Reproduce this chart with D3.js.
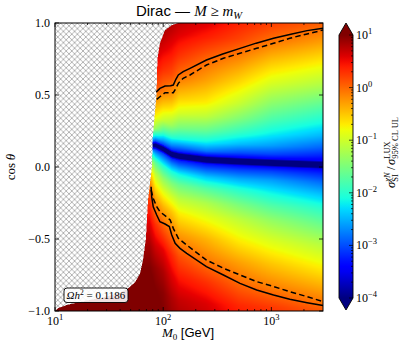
<!DOCTYPE html>
<html>
<head>
<meta charset="utf-8">
<script src="https://cdn.jsdelivr.net/npm/d3@7"></script>
<style>
  body { margin: 0; background: #fff; }
  svg { display: block; }
</style>
</head>
<body>
<svg id="chart" width="407" height="352"></svg>
<script>
// ratio sigma_SI / sigma_LUX, stored as log10 on a grid:
// columns in M0 (GeV), rows as offsets in cos(theta) from the dark "blind spot" line
var massCols = [10, 75, 85, 100, 120, 140, 250, 500, 1000, 3000];
var lineCos  = [0.15, 0.15, 0.15, 0.125, 0.088, 0.075, 0.05, 0.038, 0.028, 0.014];
var offsets  = [-1.16, -1.0, -0.85, -0.7, -0.55, -0.4, -0.3, -0.2, -0.12, -0.06, -0.03, 0,
                0.03, 0.06, 0.12, 0.2, 0.3, 0.4, 0.55, 0.7, 0.85, 1.0];
var logRatio = [
  [1.2, 1.1, 1.0, 0.85, 0.6, 0.3, 0.02, -0.4, -1.0, -1.8, -2.6, -4.0, -2.7, -2.1, -1.1, -0.5, 0.0, 0.35, 0.7, 0.95, 1.1, 1.2],
  [1.2, 1.1, 1.0, 0.85, 0.6, 0.3, 0.02, -0.4, -1.0, -1.8, -2.6, -4.0, -2.7, -2.1, -1.1, -0.5, 0.0, 0.35, 0.7, 0.95, 1.1, 1.2],
  [1.1, 1.0, 0.9, 0.65, 0.3, -0.2, -0.6, -1.1, -1.7, -2.5, -3.0, -4.4, -3.0, -2.3, -1.3, -0.75, -0.3, 0.12, 0.5, 0.75, 1.0, 1.1],
  [1.0, 0.95, 0.8, 0.55, 0.1, -0.4, -0.85, -1.4, -2.0, -2.7, -3.1, -4.6, -3.1, -2.6, -1.8, -1.05, -0.55, -0.1, 0.3, 0.6, 0.85, 1.0],
  [0.9, 0.8, 0.6, 0.35, -0.05, -0.5, -0.95, -1.5, -2.1, -2.8, -3.2, -4.7, -3.2, -2.75, -2.0, -1.3, -0.75, -0.3, 0.15, 0.45, 0.7, 0.9],
  [0.85, 0.7, 0.45, 0.15, -0.25, -0.7, -1.1, -1.6, -2.2, -2.9, -3.25, -4.7, -3.25, -2.85, -2.1, -1.5, -0.95, -0.55, -0.05, 0.3, 0.6, 0.8],
  [0.75, 0.6, 0.3, -0.08, -0.4, -0.85, -1.2, -1.75, -2.4, -3.0, -3.3, -4.8, -3.35, -2.8, -2.2, -1.65, -1.1, -0.7, -0.3, 0.02, 0.4, 0.7],
  [0.55, 0.35, 0.02, -0.3, -0.7, -1.1, -1.5, -2.0, -2.55, -3.05, -3.35, -4.8, -3.4, -3.0, -2.45, -1.95, -1.45, -1.05, -0.6, -0.2, 0.2, 0.45],
  [0.45, 0.25, -0.15, -0.5, -0.9, -1.35, -1.75, -2.2, -2.6, -3.05, -3.35, -4.8, -3.4, -3.05, -2.6, -2.2, -1.8, -1.45, -0.95, -0.5, -0.05, 0.3],
  [0.3, 0.05, -0.35, -0.75, -1.15, -1.65, -2.0, -2.45, -2.85, -3.2, -3.4, -4.8, -3.45, -3.25, -2.9, -2.5, -2.1, -1.75, -1.2, -0.75, -0.3, 0.1]
];

// left edge of the region with a valid relic density (hatched beyond)
var boundaryCos  = [-1.0, -0.98, -0.958, -0.935, -0.91, -0.88, -0.85, -0.8, -0.74, -0.65, -0.5, -0.23, 0.0, 0.2, 0.5, 0.75, 0.86, 0.95, 0.985, 1.0];
var boundaryMass = [10, 10.7, 12.9, 17.8, 26.1, 38.0, 46.2, 55.0, 61.1, 65.0, 69.2, 72.4, 78.7, 80.0, 86.7, 88.5, 93.3, 104, 120, 137];

// contours (solid: ratio = 1, dashed: second limit)
var upperSolidM   = [86.1, 93.3, 104, 117, 124, 131, 138, 153, 177, 251, 355, 513, 724, 1047, 1514, 2138, 3000];
var upperSolidCos = [0.52, 0.546, 0.562, 0.565, 0.569, 0.609, 0.639, 0.662, 0.685, 0.743, 0.785, 0.824, 0.86, 0.894, 0.922, 0.947, 0.964];
var upperDashM    = [87.1, 93.3, 104, 124, 131, 138, 153, 177, 251, 360, 513, 731, 1047, 1479, 2138, 3000];
var upperDashCos  = [0.47, 0.488, 0.516, 0.516, 0.546, 0.581, 0.616, 0.639, 0.708, 0.755, 0.79, 0.824, 0.859, 0.894, 0.924, 0.951];
var lowerSolidM   = [77.3, 78.3, 80.9, 87.1, 93.3, 104, 114, 120, 129, 143, 165, 251, 360, 513, 731, 1047, 1479, 2138, 3000];
var lowerSolidCos = [-0.137, -0.206, -0.276, -0.333, -0.38, -0.396, -0.414, -0.472, -0.53, -0.565, -0.6, -0.692, -0.75, -0.808, -0.854, -0.889, -0.919, -0.942, -0.962];
var lowerDashM    = [77.3, 80.9, 87.1, 93.3, 107, 116, 124, 138, 165, 251, 360, 513, 731, 1047, 1479, 2138, 3000];
var lowerDashCos  = [-0.16, -0.218, -0.276, -0.31, -0.345, -0.368, -0.426, -0.495, -0.542, -0.646, -0.703, -0.75, -0.796, -0.83, -0.866, -0.9, -0.935];

var xTicks = [10, 100, 1000];
var xMinor = [20, 30, 40, 50, 60, 70, 80, 90, 200, 300, 400, 500, 600, 700, 800, 900, 2000];
var yTicks = [-1.0, -0.5, 0.0, 0.5, 1.0];
var cbarExps = [-4, -3, -2, -1, 0, 1];
var relicLabel = "0.1186";

var X0 = 55, X1 = 323, Y0 = 23, Y1 = 311;
var serif = "'Liberation Serif', 'DejaVu Serif', serif";
var sans = "'Liberation Sans', Arial, sans-serif";

var svg = d3.select("#chart");

var x = d3.scaleLog().domain([10, 3000]).range([X0, X1]);
var y = d3.scaleLinear().domain([-1, 1]).range([Y1, Y0]);

// matplotlib "jet"
var jetR = d3.scaleLinear().domain([0, 0.35, 0.66, 0.89, 1]).range([0, 0, 1, 1, 0.5]).clamp(true);
var jetG = d3.scaleLinear().domain([0, 0.125, 0.375, 0.64, 0.91, 1]).range([0, 0, 1, 1, 0, 0]).clamp(true);
var jetB = d3.scaleLinear().domain([0, 0.11, 0.34, 0.65, 1]).range([0.5, 1, 1, 0, 0]).clamp(true);
var tOf = d3.scaleLinear().domain([-4, 1]).range([0, 1]).clamp(true);
function jet(t) {
  return [Math.round(255 * jetR(t)), Math.round(255 * jetG(t)), Math.round(255 * jetB(t))];
}

var logCols = massCols.map(Math.log10);
var colScales = logRatio.map(function(col) {
  return d3.scaleLinear().domain(offsets).range(col).clamp(true);
});
var c0Scale = d3.scaleLinear().domain(logCols).range(lineCos).clamp(true);
var bLog = d3.scaleLinear().domain(boundaryCos).range(boundaryMass.map(Math.log10)).clamp(true);

function field(lm, c) {
  var i = d3.bisectRight(logCols, lm) - 1;
  i = Math.max(0, Math.min(logCols.length - 2, i));
  var t = Math.max(0, Math.min(1, (lm - logCols[i]) / (logCols[i + 1] - logCols[i])));
  var dc = c - c0Scale(lm);
  return colScales[i](dc) * (1 - t) + colScales[i + 1](dc) * t;
}

// ---- hatch pattern for the excluded region
var defs = svg.append("defs");
var hs = 5.6;
var pat = defs.append("pattern").attr("id", "hatch")
  .attr("patternUnits", "userSpaceOnUse")
  .attr("x", X0).attr("y", Y0)
  .attr("width", hs).attr("height", hs);
pat.append("path")
  .attr("d", "M0,0L" + hs + "," + hs + "M" + hs + ",0L0," + hs)
  .attr("stroke", "#8c8c8c").attr("stroke-width", 0.65).attr("fill", "none");

svg.append("rect").attr("x", X0).attr("y", Y0)
  .attr("width", X1 - X0).attr("height", Y1 - Y0)
  .attr("fill", "#fff");
svg.append("rect").attr("x", X0).attr("y", Y0)
  .attr("width", X1 - X0).attr("height", Y1 - Y0)
  .attr("fill", "url(#hatch)");

// ---- heat map rendered to a canvas and placed in the svg
var W = X1 - X0, H = Y1 - Y0;
var canvas = document.createElement("canvas");
canvas.width = W; canvas.height = H;
var ctx = canvas.getContext("2d");
var img = ctx.createImageData(W, H);
var subs = [[0.25, 0.25], [0.75, 0.25], [0.25, 0.75], [0.75, 0.75]];
for (var j = 0; j < H; j++) {
  for (var i = 0; i < W; i++) {
    var cover = 0;
    subs.forEach(function(s) {
      var lms = Math.log10(x.invert(X0 + i + s[0]));
      var cs = y.invert(Y0 + j + s[1]);
      if (lms >= bLog(cs)) cover++;
    });
    var k = 4 * (j * W + i);
    if (cover === 0) { img.data[k + 3] = 0; continue; }
    var lm = Math.log10(x.invert(X0 + i + 0.5));
    var c = y.invert(Y0 + j + 0.5);
    var col = jet(tOf(field(lm, c)));
    img.data[k] = col[0]; img.data[k + 1] = col[1]; img.data[k + 2] = col[2];
    img.data[k + 3] = Math.round(255 * cover / 4);
  }
}
ctx.putImageData(img, 0, 0);
svg.append("image")
  .attr("x", X0).attr("y", Y0).attr("width", W).attr("height", H)
  .attr("preserveAspectRatio", "none")
  .attr("href", canvas.toDataURL());

// ---- contours
var line = d3.line().x(function(d) { return x(d[0]); }).y(function(d) { return y(d[1]); });
function contour(ms, cs, dashed) {
  svg.append("path")
    .attr("d", line(d3.zip(ms, cs)))
    .attr("fill", "none").attr("stroke", "#000").attr("stroke-width", 1.5)
    .attr("stroke-dasharray", dashed ? "5.5,3.2" : null);
}
contour(upperSolidM, upperSolidCos, false);
contour(upperDashM, upperDashCos, true);
contour(lowerSolidM, lowerSolidCos, false);
contour(lowerDashM, lowerDashCos, true);

// ---- frame and ticks (matplotlib classic: inward, all four sides)
var tk = svg.append("g").attr("stroke", "#000").attr("stroke-width", 0.8);
xTicks.forEach(function(v) {
  tk.append("line").attr("x1", x(v)).attr("x2", x(v)).attr("y1", Y1).attr("y2", Y1 - 4);
  tk.append("line").attr("x1", x(v)).attr("x2", x(v)).attr("y1", Y0).attr("y2", Y0 + 4);
});
xMinor.forEach(function(v) {
  tk.append("line").attr("x1", x(v)).attr("x2", x(v)).attr("y1", Y1).attr("y2", Y1 - 2);
  tk.append("line").attr("x1", x(v)).attr("x2", x(v)).attr("y1", Y0).attr("y2", Y0 + 2);
});
yTicks.forEach(function(v) {
  tk.append("line").attr("x1", X0).attr("x2", X0 + 4).attr("y1", y(v)).attr("y2", y(v));
  tk.append("line").attr("x1", X1).attr("x2", X1 - 4).attr("y1", y(v)).attr("y2", y(v));
});
svg.append("rect").attr("x", X0).attr("y", Y0)
  .attr("width", W).attr("height", H)
  .attr("fill", "none").attr("stroke", "#000").attr("stroke-width", 1);

function pow10(t, e) {
  t.append("tspan").text("10");
  t.append("tspan").attr("dy", -5).attr("font-size", 8.5).text(e < 0 ? "\u2212" + (-e) : e);
}

xTicks.forEach(function(v) {
  var t = svg.append("text").attr("x", x(v)).attr("y", 325)
    .attr("text-anchor", "middle").attr("font-family", serif).attr("font-size", 12);
  pow10(t, Math.round(Math.log10(v)));
});
yTicks.forEach(function(v) {
  svg.append("text").attr("x", 50).attr("y", y(v) + 4)
    .attr("text-anchor", "end").attr("font-family", serif).attr("font-size", 12)
    .text(d3.format(".1f")(v).replace("-", "\u2212"));
});

// ---- relic density label
svg.append("rect").attr("x", 64).attr("y", 288).attr("width", 64).attr("height", 14.5)
  .attr("rx", 3).attr("fill", "#fff").attr("fill-opacity", 0.88)
  .attr("stroke", "#000").attr("stroke-width", 0.9);
var rl = svg.append("text").attr("x", 96).attr("y", 299)
  .attr("text-anchor", "middle").attr("font-family", serif).attr("font-size", 11);
rl.append("tspan").attr("font-style", "italic").text("\u03A9h");
rl.append("tspan").attr("dy", -4).attr("font-size", 7.5).text("2");
rl.append("tspan").attr("dy", 4).text(" = " + relicLabel);

// ---- title and axis labels
var tt = svg.append("text").attr("x", 189).attr("y", 16)
  .attr("text-anchor", "middle").attr("font-size", 15);
tt.append("tspan").attr("font-family", sans).text("Dirac \u2014 ");
tt.append("tspan").attr("font-family", serif).attr("font-style", "italic").text("M");
tt.append("tspan").attr("font-family", serif).text(" \u2265 ");
tt.append("tspan").attr("font-family", serif).attr("font-style", "italic").text("m");
tt.append("tspan").attr("font-family", serif).attr("font-style", "italic")
  .attr("font-size", 10.5).attr("dy", 3).text("W");

var xl = svg.append("text").attr("x", 188).attr("y", 337)
  .attr("text-anchor", "middle").attr("font-size", 13);
xl.append("tspan").attr("font-family", serif).attr("font-style", "italic").text("M");
xl.append("tspan").attr("font-family", serif).attr("font-size", 9).attr("dy", 3).text("0");
xl.append("tspan").attr("font-family", sans).attr("dy", -3).text(" [GeV]");

var yl = svg.append("text").attr("transform", "translate(15,167) rotate(-90)")
  .attr("text-anchor", "middle").attr("font-family", serif).attr("font-size", 13);
yl.append("tspan").text("cos");
yl.append("tspan").attr("font-style", "italic").text("\u2009\u03B8");

// ---- colour bar
var CB0 = 339, CB1 = 353, CBT = 35, CBB = 298, tip = 12;
var cy = d3.scaleLog().domain([1e-4, 10]).range([CBB, CBT]);
var grad = defs.append("linearGradient").attr("id", "cbar")
  .attr("x1", 0).attr("x2", 0).attr("y1", 1).attr("y2", 0);
d3.range(0, 1.0001, 0.02).forEach(function(t) {
  var cc = jet(t);
  grad.append("stop").attr("offset", t).attr("stop-color", d3.rgb(cc[0], cc[1], cc[2]));
});
svg.append("rect").attr("x", CB0).attr("y", CBT).attr("width", CB1 - CB0).attr("height", CBB - CBT)
  .attr("fill", "url(#cbar)");
var topC = jet(1), botC = jet(0);
svg.append("path")
  .attr("d", "M" + CB0 + "," + CBT + "L" + (CB0 + CB1) / 2 + "," + (CBT - tip) + "L" + CB1 + "," + CBT + "Z")
  .attr("fill", d3.rgb(topC[0], topC[1], topC[2]));
svg.append("path")
  .attr("d", "M" + CB0 + "," + CBB + "L" + (CB0 + CB1) / 2 + "," + (CBB + tip) + "L" + CB1 + "," + CBB + "Z")
  .attr("fill", d3.rgb(botC[0], botC[1], botC[2]));
svg.append("path")
  .attr("d", "M" + CB0 + "," + CBT + "L" + (CB0 + CB1) / 2 + "," + (CBT - tip) + "L" + CB1 + "," + CBT +
             "L" + CB1 + "," + CBB + "L" + (CB0 + CB1) / 2 + "," + (CBB + tip) + "L" + CB0 + "," + CBB + "Z")
  .attr("fill", "none").attr("stroke", "#000").attr("stroke-width", 0.9);

var cbt = svg.append("g").attr("stroke", "#000").attr("stroke-width", 0.7);
cbarExps.forEach(function(e) {
  var v = Math.pow(10, e);
  cbt.append("line").attr("x1", CB1).attr("x2", CB1 - 4).attr("y1", cy(v)).attr("y2", cy(v));
  if (e < 1) {
    d3.range(2, 10).forEach(function(m) {
      cbt.append("line").attr("x1", CB1).attr("x2", CB1 - 2)
        .attr("y1", cy(m * v)).attr("y2", cy(m * v));
    });
  }
  var t = svg.append("text").attr("x", 356).attr("y", cy(v) + 4)
    .attr("font-family", serif).attr("font-size", 12);
  pow10(t, e);
});

// colour bar label, laid out piece by piece along the rotated baseline
var cl = svg.append("g").attr("transform", "translate(395,152) rotate(-90)");
var pos = 0;
function piece(txt, size, dy, italic) {
  var t = cl.append("text").attr("x", pos).attr("y", dy)
    .attr("font-family", serif).attr("font-size", size)
    .attr("font-style", italic ? "italic" : null).text(txt);
  return t.node().getComputedTextLength();
}
function stack(sub, sup) {
  var a = piece(sub, 8.5, 3, false);
  var b = piece(sup, 8.5, -5.5, sup === "\u03C7N");
  pos += Math.max(a, b) + 1;
}
pos += piece("\u03C3", 12.5, 0, true);
stack("SI", "\u03C7N");
pos += 1.5;
pos += piece("/", 12.5, 0, false) + 1.5;
pos += piece("\u03C3", 12.5, 0, true);
stack("95% CL UL", "LUX");
cl.selectAll("text").attr("transform", "translate(" + (-pos / 2) + ",0)");
</script>
</body>
</html>
